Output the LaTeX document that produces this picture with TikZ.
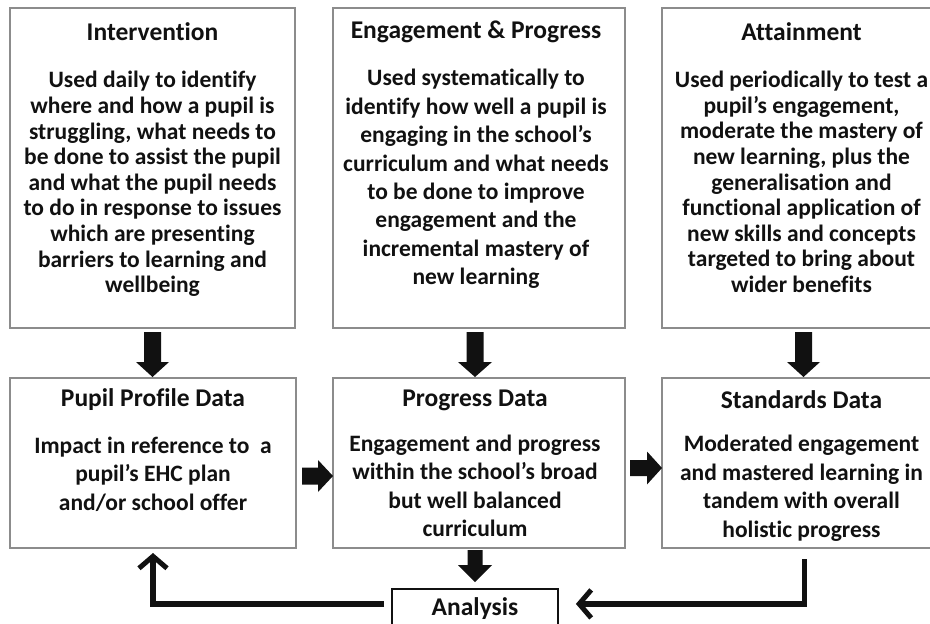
\documentclass[tikz,border=0pt]{standalone}
\usepackage{fontspec}
\setmainfont{Carlito}[RawFeature={-liga;-clig;-calt;-dlig}]
\usetikzlibrary{calc,arrows.meta}
\definecolor{boxgray}{HTML}{8C8C8C}
\definecolor{ink}{HTML}{111111}
\newcommand{\downblock}[5]{% start, tip, shaft half, head half, head length
  \fill[ink] let \p1=(#1), \p2=(#2) in
    (\x1-#3,\y1) -- (\x1+#3,\y1) -- (\x1+#3,\y2+#5) -- (\x1+#4,\y2+#5)
    -- (\x1,\y2) -- (\x1-#4,\y2+#5) -- (\x1-#3,\y2+#5) -- cycle;}
\newcommand{\rightblock}[5]{%
  \fill[ink] let \p1=(#1), \p2=(#2) in
    (\x1,\y1+#3) -- (\x2-#5,\y1+#3) -- (\x2-#5,\y1+#4) -- (\x2,\y1)
    -- (\x2-#5,\y1-#4) -- (\x2-#5,\y1-#3) -- (\x1,\y1-#3) -- cycle;}
\begin{document}
\begin{tikzpicture}[x=1pt,y=-1pt,
  box/.style={draw=boxgray, line width=1.4pt, inner sep=0pt, outer sep=0pt, anchor=north west},
  ttl/.style={font=\fontsize{25.5}{28}\selectfont\bfseries, text=ink, inner sep=0pt},
  bodytxt/.style={font=\fontsize{23.5}{#1}\selectfont\bfseries, text=ink, align=center, inner sep=0pt},
  loop/.style={draw=ink, line width=5.5pt, -{Straight Barb[length=12pt,width=28pt,line width=5pt]}}
]
\useasboundingbox (0,0) rectangle (930,624);
\fill[white] (0,0) rectangle (930,624);

% top row
\node[box, minimum width=285, minimum height=320] (int) at (10,8) {};
\node[box, minimum width=292, minimum height=320] (eng) at (333,8) {};
\node[box, minimum width=283, minimum height=320] (att) at (662,8) {};
% bottom row
\node[box, minimum width=286, minimum height=170] (pp) at (10,378) {};
\node[box, minimum width=292, minimum height=170] (pd) at (333,378) {};
\node[box, minimum width=283, minimum height=170] (sd) at (662,378) {};
% analysis
\node[draw=ink, line width=1.8pt, minimum width=166, minimum height=40, inner sep=0pt, anchor=north,
      font=\fontsize{25.5}{28}\selectfont\bfseries, text=ink] (an) at (475,588) {Analysis};

% texts
\node[ttl] (intT) at ($(int.north)+(0,24)$) {Intervention};
\node[bodytxt=25.6] (intB) at ($(int.north)+(0,176)$) {Used daily to identify\\where and how a pupil is\\struggling, what needs to\\be done to assist the pupil\\and what the pupil needs\\to do in response to issues\\which are presenting\\barriers to learning and\\wellbeing};

\node[ttl] (engT) at ($(eng.north)+(-3,24)$) {Engagement \& Progress};
\node[bodytxt=28.4] (engB) at ($(eng.north)+(-3,171)$) {Used systematically to\\identify how well a pupil is\\engaging in the school’s\\curriculum and what needs\\to be done to improve\\engagement and the\\incremental mastery of\\new learning};

\node[ttl] (attT) at ($(att.north)+(-2,24)$) {Attainment};
\node[bodytxt=25.6] (attB) at ($(att.north)+(-2,174)$) {Used periodically to test a\\pupil’s engagement,\\moderate the mastery of\\new learning, plus the\\generalisation and\\functional application of\\new skills and concepts\\targeted to bring about\\wider benefits};

\node[ttl] (ppT) at ($(pp.north)+(0,22)$) {Pupil Profile Data};
\node[bodytxt=28.5] (ppB) at ($(pp.north)+(0,96)$) {Impact in reference to\ \ a\\pupil’s EHC plan\\and/or school offer};

\node[ttl] (pdT) at ($(pd.north)+(-4,22)$) {Progress Data};
\node[bodytxt=28.5] (pdB) at ($(pd.north)+(-4,108)$) {Engagement and progress\\within the school’s broad\\but well balanced\\curriculum};

\node[ttl] (sdT) at ($(sd.north)+(-2,22)$) {Standards Data};
\node[bodytxt=28.5] (sdB) at ($(sd.north)+(-2,110)$) {Moderated engagement\\and mastered learning in\\tandem with overall\\holistic progress};

% block arrows down
\downblock{$(int.south)+(0,4)$}{$(pp.north)+(0,-1)$}{8.5pt}{16.5pt}{15pt}
\downblock{$(eng.south)+(-4,4)$}{$(pd.north)+(-4,-1)$}{8.5pt}{17pt}{15pt}
\downblock{$(att.south)+(0,4)$}{$(sd.north)+(0,-1)$}{8.5pt}{16.5pt}{15pt}
\downblock{$(pd.south)+(-4,2)$}{$(an.north)+(0,-6)$}{7.5pt}{17pt}{17pt}
% block arrows right
\rightblock{$(pp.east)+(6,13)$}{$(pd.west)+(0,13)$}{8.5pt}{16pt}{15pt}
\rightblock{$(pd.east)+(5,5)$}{$(sd.west)+(0,5)$}{8pt}{16.5pt}{15pt}

% loop connectors
\coordinate (sdOut) at ($(sd.south)+(1,11)$);
\draw[loop] ($(an.west)+(-7,-5)$) -| ($(pp.south)+(0,5)$);
\draw[loop] (sdOut) |- ($(an.east)+(17,-5)$);
\end{tikzpicture}
\end{document}
